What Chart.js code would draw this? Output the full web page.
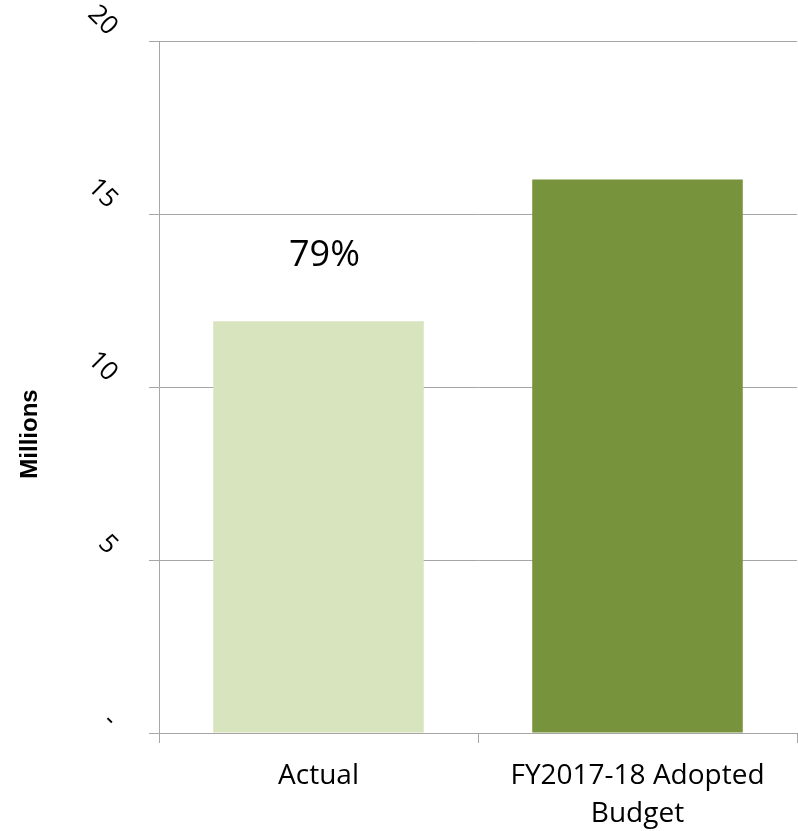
<!DOCTYPE html>
<html>
<head>
<meta charset="utf-8">
<script src="https://cdn.jsdelivr.net/npm/chart.js@4/dist/chart.umd.min.js"></script>
<style>
  html, body { margin: 0; padding: 0; background: #fff; }
  #wrap { width: 798px; height: 831px; }
</style>
</head>
<body>
<div id="wrap"><canvas id="budgetChart"></canvas></div>
<script>
// DATA
const categories = ["Actual", ["FY2017-18 Adopted", "Budget"]];
const amounts = [11.9, 16.0];          // millions
const pctLabels = ["79%", ""];
const barColors = ["#d8e4bd", "#77933c"];
const yTicks = [0, 5, 10, 15, 20];
const yTitle = "Millions";

const gridGray = "#a6a6a6";

// percent label above the bar + the y title (sits a bit low in the original)
const textPlugin = {
  id: "extraText",
  afterDatasetsDraw(chart) {
    const ctx = chart.ctx;
    const meta = chart.getDatasetMeta(0);
    ctx.save();
    ctx.font = "36px 'Open Sans'";
    ctx.fillStyle = "#000";
    ctx.textAlign = "center";
    ctx.textBaseline = "middle";
    meta.data.forEach((bar, i) => {
      if (!pctLabels[i]) return;
      ctx.fillText(pctLabels[i], bar.x + 6, bar.y - 66);
    });
    // y title
    const area = chart.chartArea;
    ctx.translate(30, (area.top + area.bottom) / 2 + 47);
    ctx.rotate(-Math.PI / 2);
    ctx.font = "bold 24px 'Liberation Sans'";
    ctx.fillText(yTitle, 0, 0);
    ctx.restore();
  }
};

const chartEl = document.getElementById("budgetChart");

new Chart(chartEl, {
  type: "bar",
  data: {
    labels: categories,
    datasets: [{
      data: amounts,
      backgroundColor: barColors,
      borderWidth: 0,
      categoryPercentage: 1,
      barPercentage: 0.66
    }]
  },
  options: {
    responsive: true,
    maintainAspectRatio: false,
    animation: false,
    layout: { padding: { top: 41, right: 1, bottom: 0, left: 0 } },
    plugins: {
      legend: { display: false },
      tooltip: { enabled: false }
    },
    scales: {
      x: {
        grid: {
          offset: true,
          drawOnChartArea: false,
          drawTicks: true,
          tickLength: 10,
          color: gridGray
        },
        border: { color: gridGray },
        ticks: {
          color: "#000",
          font: { family: "'Open Sans'", size: 28, lineHeight: 1.36 },
          padding: 14,
          maxRotation: 0
        },
        afterFit(scale) {
          scale.height = 98;
          scale.paddingLeft = 0;
          scale.paddingRight = 0;
        }
      },
      y: {
        min: 0,
        max: 20,
        afterBuildTicks(scale) {
          scale.ticks = yTicks.map(v => ({ value: v }));
        },
        grid: {
          color: gridGray,
          tickLength: 10
        },
        border: { color: gridGray },
        ticks: {
          color: "#000",
          font: { family: "'Open Sans'", size: 26 },
          minRotation: -45,
          maxRotation: -45,
          labelOffset: -10,
          padding: 36,
          callback: v => (v === 0 ? "-" : v)
        },
        afterFit(scale) {
          scale.width = 159;
          scale.paddingTop = 0;
          scale.paddingBottom = 0;
        }
      }
    }
  },
  plugins: [textPlugin]
});
</script>
</body>
</html>
